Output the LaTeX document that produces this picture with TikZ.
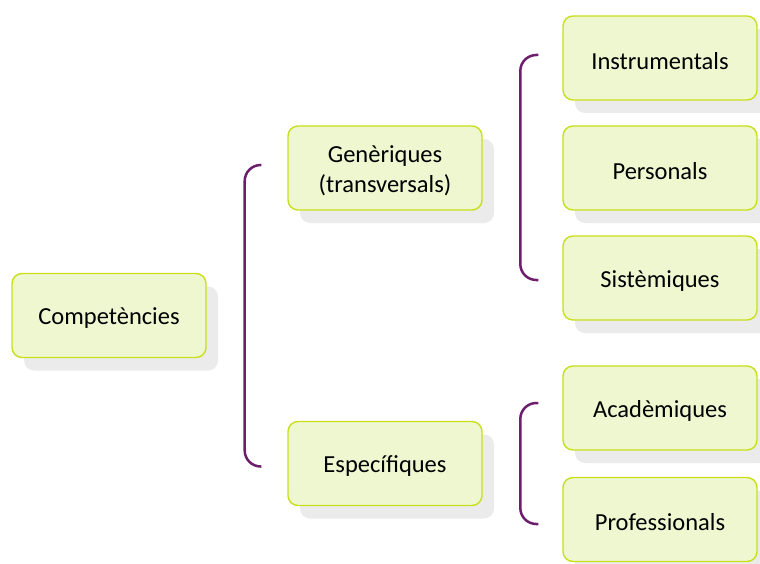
\documentclass[tikz,border=0pt]{standalone}
\usepackage{fontspec}
\setmainfont{Carlito}
\usetikzlibrary{shadows,calc}
\definecolor{boxfill}{HTML}{EFF7D1}
\definecolor{boxline}{HTML}{C8DF1A}
\definecolor{brk}{HTML}{6C1E6C}
\definecolor{shade}{HTML}{EBEBEB}
\tikzset{
  boxtext/.style={align=center, inner sep=0pt, yshift=-3pt,
    font=\fontsize{24.5}{30}\selectfont},
  boxnode/.style={draw=boxline, fill=boxfill, line width=1.4pt, rounded corners=10pt,
    minimum width=194pt, minimum height=84pt, inner sep=0pt,
    drop shadow={shadow xshift=12pt, shadow yshift=-13pt, fill=shade, opacity=1},
    label={[boxtext]center:{#1}}},
  bracketline/.style={draw=brk, line width=2.5pt, rounded corners=16pt}
}
\begin{document}
\begin{tikzpicture}[x=1pt,y=-1pt]
\useasboundingbox (0,0) rectangle (760,564);
\node[boxnode={Competències}] (comp) at (109,315.5) {};
\node[boxnode={Genèriques\\(transversals)}] (gen) at (385,168) {};
\node[boxnode={Específiques}] (esp) at (385,463.5) {};
\node[boxnode={Instrumentals}] (inst) at (660,58) {};
\node[boxnode={Personals}] (pers) at (660,168) {};
\node[boxnode={Sistèmiques}] (sist) at (660,278) {};
\node[boxnode={Acadèmiques}] (acad) at (660,408) {};
\node[boxnode={Professionals}] (prof) at (660,519.5) {};
\draw[bracketline] ($(gen.west)+(-26,-3)$) -| ($(comp.east)+(38,0)$) |- ($(esp.west)+(-26,3)$);
\draw[bracketline] ($(inst.west)+(-24,-3)$) -| ($(inst.west)!0.5!(sist.west)+(-42,0)$) |- ($(sist.west)+(-24,2)$);
\draw[bracketline] ($(acad.west)+(-24,-5)$) -| ($(acad.west)!0.5!(prof.west)+(-42,0)$) |- ($(prof.west)+(-24,4.5)$);
\end{tikzpicture}
\end{document}
